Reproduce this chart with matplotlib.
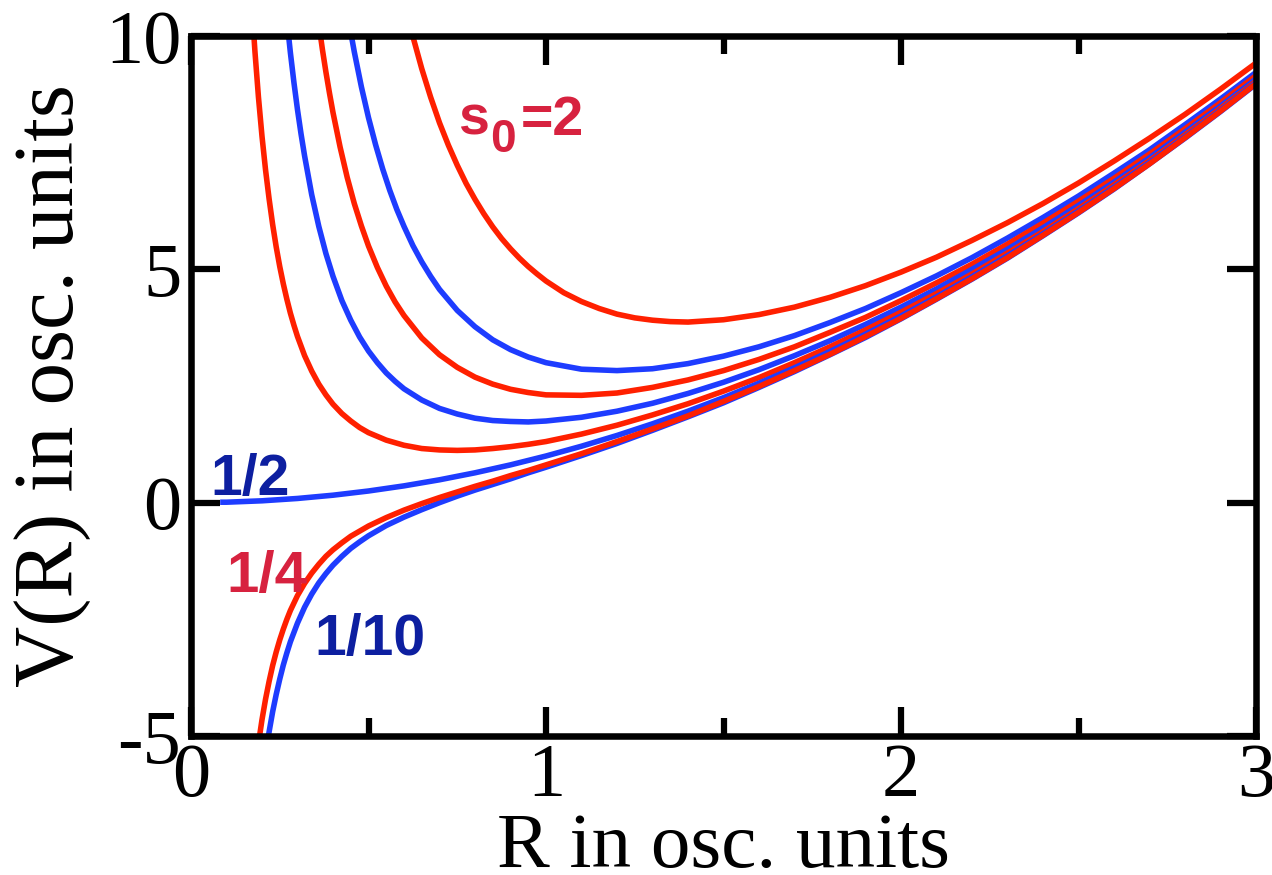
import matplotlib.pyplot as plt

# Hyperradial potential curves, R and V in osc. units
r_s2 = [0.61, 0.625, 0.65, 0.675, 0.70, 0.725, 0.75, 0.775, 0.80, 0.825, 0.85, 0.875, 0.90,
        0.925, 0.95, 0.975, 1.0, 1.05, 1.1, 1.15, 1.2, 1.25, 1.3, 1.35, 1.4, 1.5, 1.6, 1.7,
        1.8, 1.9, 2.0, 2.1, 2.2, 2.3, 2.4, 2.5, 2.6, 2.7, 2.8, 2.9, 3.0]
v_s2 = [10.45, 9.99, 9.30, 8.69, 8.14, 7.66, 7.23, 6.84, 6.50, 6.19, 5.91, 5.66, 5.44,
        5.24, 5.06, 4.90, 4.75, 4.50, 4.31, 4.16, 4.04, 3.96, 3.91, 3.88, 3.87, 3.92, 4.03,
        4.19, 4.40, 4.65, 4.94, 5.26, 5.62, 6.00, 6.41, 6.85, 7.32, 7.81, 8.32, 8.86, 9.42]

r_s32 = [0.44, 0.45, 0.46, 0.48, 0.50, 0.52, 0.54, 0.56, 0.58, 0.60, 0.625, 0.65, 0.675,
         0.70, 0.75, 0.80, 0.85, 0.90, 0.95, 1.0, 1.1, 1.2, 1.3, 1.4, 1.5, 1.6, 1.7, 1.8,
         1.9, 2.0, 2.1, 2.2, 2.3, 2.4, 2.5, 2.6, 2.7, 2.8, 2.9, 3.0]
v_s32 = [10.52, 10.08, 9.66, 8.91, 8.25, 7.67, 7.15, 6.69, 6.28, 5.92, 5.51, 5.16, 4.85,
         4.57, 4.12, 3.77, 3.49, 3.28, 3.12, 3.00, 2.86, 2.83, 2.87, 2.98, 3.14, 3.34, 3.58,
         3.86, 4.16, 4.50, 4.86, 5.25, 5.67, 6.11, 6.57, 7.06, 7.56, 8.10, 8.65, 9.22]

r_s54 = [0.36, 0.37, 0.38, 0.39, 0.40, 0.42, 0.44, 0.46, 0.48, 0.50, 0.525, 0.55, 0.575,
         0.60, 0.65, 0.70, 0.75, 0.80, 0.85, 0.90, 0.95, 1.0, 1.1, 1.2, 1.3, 1.4, 1.5, 1.6,
         1.7, 1.8, 1.9, 2.0, 2.1, 2.2, 2.3, 2.4, 2.5, 2.6, 2.7, 2.8, 2.9, 3.0]
v_s54 = [10.26, 9.72, 9.23, 8.78, 8.36, 7.62, 6.97, 6.41, 5.93, 5.50, 5.04, 4.64, 4.30,
         4.01, 3.53, 3.17, 2.90, 2.69, 2.54, 2.43, 2.36, 2.31, 2.30, 2.35, 2.47, 2.63, 2.83,
         3.07, 3.34, 3.65, 3.97, 4.33, 4.71, 5.11, 5.54, 5.99, 6.46, 6.95, 7.47, 8.01, 8.57,
         9.15]

r_s1 = [0.27, 0.28, 0.29, 0.30, 0.31, 0.32, 0.34, 0.36, 0.38, 0.40, 0.425, 0.45, 0.475,
        0.50, 0.525, 0.55, 0.575, 0.60, 0.65, 0.70, 0.75, 0.80, 0.85, 0.90, 0.95, 1.0, 1.1,
        1.2, 1.3, 1.4, 1.5, 1.6, 1.7, 1.8, 1.9, 2.0, 2.1, 2.2, 2.3, 2.4, 2.5, 2.6, 2.7, 2.8,
        2.9, 3.0]
v_s1 = [10.36, 9.64, 9.00, 8.42, 7.90, 7.43, 6.60, 5.92, 5.34, 4.85, 4.33, 3.91, 3.55,
        3.25, 3.00, 2.78, 2.60, 2.44, 2.20, 2.02, 1.90, 1.81, 1.76, 1.74, 1.73, 1.75, 1.83,
        1.96, 2.13, 2.34, 2.58, 2.85, 3.15, 3.47, 3.82, 4.19, 4.58, 5.00, 5.43, 5.89, 6.37,
        6.87, 7.39, 7.94, 8.50, 9.08]

r_s34 = [0.17, 0.18, 0.19, 0.20, 0.21, 0.22, 0.23, 0.24, 0.25, 0.26, 0.27, 0.28, 0.29,
         0.30, 0.32, 0.34, 0.36, 0.38, 0.40, 0.425, 0.45, 0.475, 0.50, 0.55, 0.60, 0.65,
         0.70, 0.75, 0.80, 0.85, 0.90, 0.95, 1.0, 1.1, 1.2, 1.3, 1.4, 1.5, 1.6, 1.7, 1.8,
         1.9, 2.0, 2.1, 2.2, 2.3, 2.4, 2.5, 2.6, 2.7, 2.8, 2.9, 3.0]
v_s34 = [10.84, 9.68, 8.69, 7.85, 7.13, 6.51, 5.96, 5.48, 5.06, 4.69, 4.36, 4.06, 3.80,
         3.56, 3.15, 2.82, 2.54, 2.31, 2.11, 1.91, 1.75, 1.61, 1.50, 1.34, 1.23, 1.16,
         1.13, 1.12, 1.13, 1.16, 1.20, 1.25, 1.31, 1.47, 1.66, 1.88, 2.12, 2.39, 2.68, 3.00,
         3.34, 3.70, 4.08, 4.48, 4.90, 5.35, 5.81, 6.30, 6.81, 7.33, 7.88, 8.45, 9.03]

r_s12 = [0.09, 0.1, 0.2, 0.3, 0.4, 0.5, 0.6, 0.7, 0.8, 0.9, 1.0, 1.1, 1.2, 1.3, 1.4, 1.5,
         1.6, 1.7, 1.8, 1.9, 2.0, 2.1, 2.2, 2.3, 2.4, 2.5, 2.6, 2.7, 2.8, 2.9, 3.0]
v_s12 = [0.01, 0.01, 0.04, 0.09, 0.16, 0.25, 0.36, 0.49, 0.64, 0.81, 1.00, 1.21, 1.44, 1.69,
         1.96, 2.25, 2.56, 2.89, 3.24, 3.61, 4.00, 4.41, 4.84, 5.29, 5.76, 6.25, 6.76, 7.29,
         7.84, 8.41, 9.00]

r_s14 = [0.19, 0.20, 0.21, 0.22, 0.23, 0.24, 0.25, 0.26, 0.27, 0.28, 0.30, 0.32, 0.34,
         0.36, 0.38, 0.40, 0.425, 0.45, 0.475, 0.50, 0.55, 0.60, 0.65, 0.70, 0.75, 0.80,
         0.85, 0.90, 0.95, 1.0, 1.1, 1.2, 1.3, 1.4, 1.5, 1.6, 1.7, 1.8, 1.9, 2.0, 2.1, 2.2,
         2.3, 2.4, 2.5, 2.6, 2.7, 2.8, 2.9, 3.0]
v_s14 = [-5.16, -4.65, -4.21, -3.83, -3.49, -3.20, -2.94, -2.71, -2.50, -2.31, -1.99, -1.73,
         -1.51, -1.32, -1.15, -1.01, -0.86, -0.72, -0.61, -0.50, -0.32, -0.16, -0.02, 0.11,
         0.23, 0.35, 0.46, 0.58, 0.69, 0.81, 1.05, 1.31, 1.58, 1.86, 2.17, 2.49, 2.83, 3.18,
         3.56, 3.95, 4.37, 4.80, 5.25, 5.73, 6.22, 6.73, 7.26, 7.82, 8.39, 8.98]

r_s110 = [0.21, 0.22, 0.23, 0.24, 0.25, 0.26, 0.27, 0.28, 0.30, 0.32, 0.34, 0.36, 0.38,
          0.40, 0.425, 0.45, 0.475, 0.50, 0.55, 0.60, 0.65, 0.70, 0.75, 0.80, 0.85, 0.90,
          0.95, 1.0, 1.1, 1.2, 1.3, 1.4, 1.5, 1.6, 1.7, 1.8, 1.9, 2.0, 2.1, 2.2, 2.3, 2.4,
          2.5, 2.6, 2.7, 2.8, 2.9, 3.0]
v_s110 = [-5.40, -4.91, -4.48, -4.11, -3.78, -3.48, -3.22, -2.98, -2.58, -2.24, -1.96, -1.72,
          -1.52, -1.34, -1.15, -0.98, -0.84, -0.71, -0.49, -0.31, -0.15, 0.00, 0.14, 0.27,
          0.39, 0.51, 0.64, 0.76, 1.01, 1.27, 1.55, 1.84, 2.14, 2.47, 2.81, 3.17, 3.54, 3.94,
          4.36, 4.79, 5.24, 5.72, 6.21, 6.72, 7.26, 7.81, 8.38, 8.97]

x_ticks = [0, 1, 2, 3]
x_minor = [0.5, 1.5, 2.5]
y_ticks = [-5, 0, 5, 10]

red = '#ff2000'
blue = '#1e3cff'
red_txt = '#d7223f'
blue_txt = '#0d1fa0'

curves = [
    (r_s2, v_s2, red),
    (r_s32, v_s32, blue),
    (r_s54, v_s54, red),
    (r_s1, v_s1, blue),
    (r_s34, v_s34, red),
    (r_s12, v_s12, blue),
    (r_s110, v_s110, blue),
    (r_s14, v_s14, red),
]

fig = plt.figure(figsize=(12.72, 8.75), dpi=100)
ax = fig.add_axes([191 / 1272, 1 - 736 / 875, 1065 / 1272, 700 / 875])

for r, v, c in curves:
    ax.plot(r, v, color=c, lw=4.0, solid_joinstyle='round')

ax.set_xlim(0, 3)
ax.set_ylim(-5, 10)
ax.set_xticks(x_ticks)
ax.set_xticks(x_minor, minor=True)
ax.set_yticks(y_ticks)

serif = 'Liberation Serif'
ax.set_xticklabels([str(t) for t in x_ticks], fontfamily=serif, fontsize=55)
ax.set_yticklabels([str(t) for t in y_ticks], fontfamily=serif, fontsize=55)
ax.tick_params(which='both', direction='in', top=True, right=True, width=4.5)
ax.tick_params(which='major', length=21)
ax.tick_params(which='minor', length=13)
ax.tick_params(axis='x', pad=5)
ax.tick_params(axis='y', pad=7)
for s in ax.spines.values():
    s.set_linewidth(4.7)

ax.set_xlabel('R in osc. units', fontfamily=serif, fontsize=57, va='baseline')
ax.xaxis.set_label_coords(0.5, -131 / 700)
ax.set_ylabel('V(R) in osc. units', fontfamily=serif, fontsize=61)
ax.yaxis.set_label_coords(-0.094, 0.5)

# curve labels
lab = dict(fontfamily='Liberation Sans', fontweight='bold', ha='left', va='baseline')
ax.text(0.752, 7.88, 's', color=red_txt, fontsize=40, **lab)
ax.text(0.843, 7.51, '0', color=red_txt, fontsize=33, **lab)
ax.text(0.928, 7.88, '=2', color=red_txt, fontsize=40, **lab)
ax.text(0.055, 0.165, '1/2', color=blue_txt, fontsize=41, **lab)
ax.text(0.100, -1.91, '1/4', color=red_txt, fontsize=42, **lab)
ax.text(0.347, -3.26, '1/10', color=blue_txt, fontsize=41, **lab)

fig.savefig('out.png', dpi=100)
